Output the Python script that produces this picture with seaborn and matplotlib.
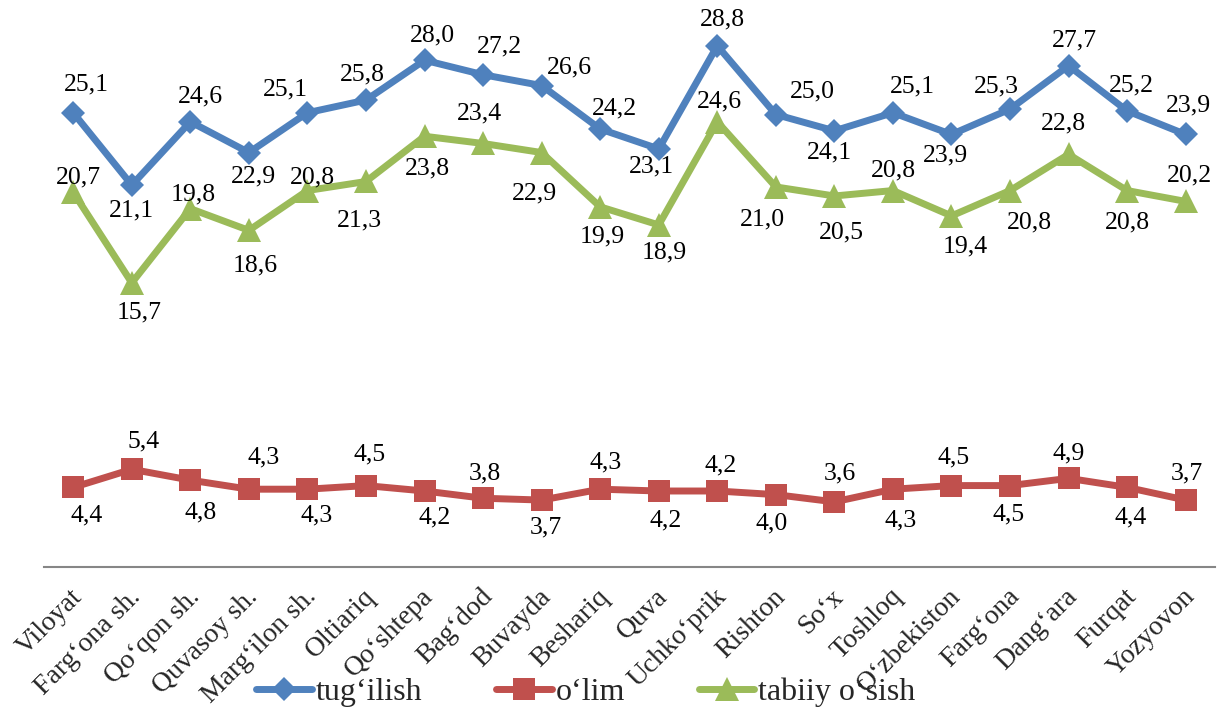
import numpy as np
import pandas as pd
import matplotlib
matplotlib.use("Agg")
import matplotlib.pyplot as plt
import matplotlib.transforms as mtransforms
import seaborn as sns

# Hududlar (kategoriyalar)
hududlar = ["Viloyat", "Farg‘ona sh.", "Qo‘qon sh.", "Quvasoy sh.", "Marg‘ilon sh.",
            "Oltiariq", "Qo‘shtepa", "Bag‘dod", "Buvayda", "Beshariq", "Quva",
            "Uchko‘prik", "Rishton", "So‘x", "Toshloq", "O‘zbekiston", "Farg‘ona",
            "Dang‘ara", "Furqat", "Yozyovon"]

# Ko'rsatkichlar (1000 kishiga)
tugilish = [25.1, 21.1, 24.6, 22.9, 25.1, 25.8, 28.0, 27.2, 26.6, 24.2,
            23.1, 28.8, 25.0, 24.1, 25.1, 23.9, 25.3, 27.7, 25.2, 23.9]
olim = [4.4, 5.4, 4.8, 4.3, 4.3, 4.5, 4.2, 3.8, 3.7, 4.3,
        4.2, 4.2, 4.0, 3.6, 4.3, 4.5, 4.5, 4.9, 4.4, 3.7]
tabiiy_osish = [20.7, 15.7, 19.8, 18.6, 20.8, 21.3, 23.8, 23.4, 22.9, 19.9,
                18.9, 24.6, 21.0, 20.5, 20.8, 19.4, 20.8, 22.8, 20.8, 20.2]

seriya_nomlari = ["tug‘ilish", "o‘lim", "tabiiy o‘sish"]

# Yorliqlarning nuqtaga nisbatan siljishi (piksel; x o'ngga, y pastga)
tug_offsets = [(13, -28), (0, 25), (10, -25), (5, 24), (-22, -23), (-4, -26), (8, -25),
               (16, -28), (28, -18), (14, -21), (-7, 18), (5, -26), (37, -23), (-5, 22),
               (19, -26), (-6, 21), (-14, -23), (6, -25), (4, -25), (3, -29)]
olim_offsets = [(13, 28), (12, -28), (10, 32), (15, -32), (9, 26), (4, -31), (10, 26),
                (2, -25), (4, 27), (5, -27), (7, 29), (3, -26), (-4, 29), (5, -28),
                (8, 31), (2, -28), (-1, 29), (0, -25), (3, 30), (1, -27)]
tab_offsets = [(5, -15), (7, 30), (3, -14), (6, 35), (5, -13), (-7, 39), (3, 32),
               (-4, -30), (-7, 41), (2, 30), (5, 28), (2, -20), (-13, 33), (7, 36),
               (1, -20), (14, 31), (19, 32), (-5, -31), (0, 32), (4, -26)]


def create_plot():
    sns.set_theme(style="white")
    plt.rcParams['font.family'] = ['Liberation Serif', 'DejaVu Serif']

    fig = plt.figure(figsize=(12.18, 7.11), dpi=100)
    ax = fig.add_axes([0.0361, 0.2025, 0.9614, 0.7637])

    x = np.arange(len(hududlar))
    seriyalar = [
        (tugilish, "#4F81BD", "D", 12, tug_offsets),
        (olim, "#C0504D", "s", 16, olim_offsets),
        (tabiiy_osish, "#9BBB59", "^", 17, tab_offsets),
    ]

    for (vals, color, marker, ms, offs), name in zip(seriyalar, seriya_nomlari):
        df = pd.DataFrame({"x": x, "y": vals})
        sns.lineplot(data=df, x="x", y="y", ax=ax, color=color, marker=marker,
                     markersize=ms, markeredgewidth=0, linewidth=5,
                     label=name, sort=False)
        for i, v in enumerate(vals):
            dx, dy = offs[i]
            ax.annotate(f"{v:.1f}".replace(".", ","), (i, v), xytext=(dx, -dy),
                        textcoords="offset pixels", ha="center", va="center",
                        fontsize=18.5, color="black", annotation_clip=False)

    ax.set_xlim(-0.5, len(hududlar) - 0.5)
    ax.set_ylim(0, 30)
    ax.set_xlabel("")
    ax.set_ylabel("")
    ax.set_yticks([])
    ax.set_xticks(x)
    ax.set_xticklabels(hududlar, fontsize=20)
    plt.setp(ax.get_xticklabels(), rotation=45, ha="right", va="baseline",
             rotation_mode="anchor")
    ax.tick_params(axis="x", length=0, pad=22)
    # Excel'dagidek yorliqlarni biroz o'ngga surish
    shift = mtransforms.ScaledTranslation(0.10, 0, fig.dpi_scale_trans)
    for lbl in ax.get_xticklabels():
        lbl.set_transform(lbl.get_transform() + shift)

    for side in ["top", "left", "right"]:
        ax.spines[side].set_visible(False)
    ax.spines["bottom"].set_color("#868686")
    ax.spines["bottom"].set_linewidth(1.5)

    handles, labels = ax.get_legend_handles_labels()
    ax.legend(handles, labels, loc="center", bbox_to_anchor=(0.481, 0.026),
              bbox_transform=fig.transFigure, ncol=3, frameon=False, fontsize=23,
              handlelength=1.75, handletextpad=0.12, columnspacing=2.3,
              borderaxespad=0, borderpad=0)

    fig.savefig("out.png", dpi=100)
    plt.close(fig)


if __name__ == '__main__':
    create_plot()
